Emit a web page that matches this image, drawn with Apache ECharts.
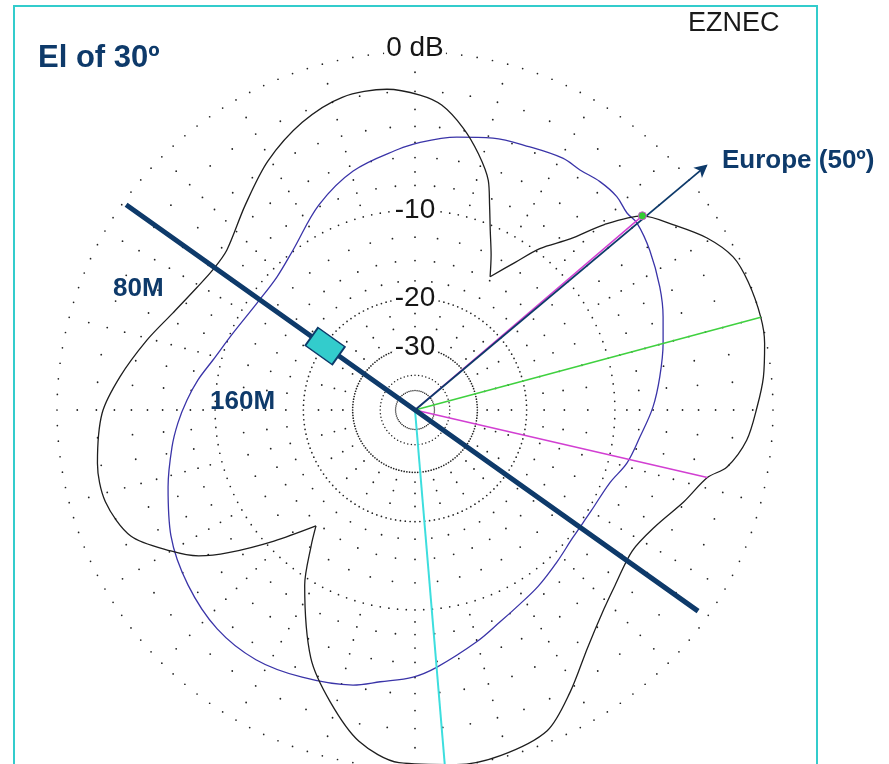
<!DOCTYPE html>
<html>
<head>
<meta charset="utf-8">
<script src="https://cdn.jsdelivr.net/npm/echarts@6/dist/echarts.min.js"></script>
<style>
html,body{margin:0;padding:0;background:#ffffff;}
#chart{width:889px;height:764px;}
</style>
</head>
<body>
<div id="chart"></div>
<script>
// ---- Data (El 30 deg), ARRL log scale ----
// 80M pattern: azimuth (deg, compass) and gain (dB rel. max)
const az80 = [0.9,5,9.7,13.9,17.7,20,22.7,26.1,29.4,34.1,37.7,42.2,45.6,49.5,54.4,59.5,64.3,69,75,79.2,84.6,89.5,95.2,100.4,103,108.9,115.8,123,131.2,136.5,144.1,151.2,157.6,166,173.4,182.6,189.6,196.2,202.8,212.2,217.4,220.5,227.1,232.6,236,240,246.1,253.5,260.5,269.4,276.4,284.6,291.8,299.4,304.7,310.4,320.3,329.4,338.6,346.9,355];
const db80 = [-2.2,-2.69,-3.85,-5.23,-6.79,-8.51,-10.43,-12.48,-14.59,-11.99,-9.65,-7.52,-5.16,-3.09,-2.03,-0.94,-0.24,-0.05,0,-0.1,-0.39,-0.78,-1.24,-2.09,-3.03,-3.98,-5.03,-5.56,-5.1,-4.56,-3.38,-1.82,-0.54,-0.1,-0.05,-0.24,-1.09,-2.81,-4.91,-9.4,-12.68,-14.65,-10.65,-7.23,-5.43,-4.1,-2.42,-1.77,-1.82,-2.31,-3.21,-4.4,-5.43,-6.16,-6.44,-6.37,-5.1,-3.67,-2.53,-1.87,-1.82];
// the two sharp notches of the 80M pattern (deg)
const notches80 = [29.4, 220.5];
// 160M pattern
const az160 = [1.1,8.7,16,23.6,30.4,34.5,39,43.4,47.1,49.9,55.8,63.3,69.4,74.9,82.3,89.3,96.8,104,110.5,120,129,137,145,152,158.2,165.2,175.1,180.4,187.3,192.7,202.9,212.5,222.1,232.4,242.7,252.7,261.3,266.9,272.5,277.9,283.9,292.9,304.1,313.9,322.7,334.9,345.5,356.5];
const db160 = [-4.99,-4.46,-4.04,-3.79,-3.5,-3.54,-3.39,-3.4,-3.65,-3.6,-3.98,-4.59,-5.16,-5.69,-6.37,-7.01,-7.85,-8.47,-9.32,-9.74,-9.74,-9.32,-8.75,-8.28,-7.71,-6.86,-5.62,-5.03,-4.59,-4.1,-3.61,-3.26,-3.32,-3.82,-4.55,-5.58,-6.45,-7.05,-7.73,-8.43,-9.31,-10.2,-10.8,-10.72,-9.89,-7.86,-6.38,-5.39];

// ring labels
const ringLabelDb = [0,-10,-20,-30];
const ringLabels = ['0 dB','-10','-20','-30'];
// grid rings (dB) grouped by dot spacing
const denseRingDb = [0,-10,-20,-30];
const fineRingDb = [-40,-50];
const evenRingDb = [-2,-4,-6,-8];
const oddRingDb = [-1,-3,-5,-7,-9];
const innerRingDb = [-12.5,-15,-17.5];
const deepRingDb = [-22.5,-25,-27.5];

// EZNEC marker directions (deg) and gains (dB)
const maxGainAz = 75, maxGainDb = 0;
const halfPowerAz = [49.5, 103];
const halfPowerDb = [-3.09, -3.03];
const cursorAz = 175.2;
const europeAz = 50;
const wireAz = [305.4, 125.4];

// ARRL log scale: radius as fraction of the outer (0 dB) ring
const toR = db => Math.pow(0.89, -db / 2);
const NAVY = '#0E3A6A';

function pattern(az, db) {
  const d = az.map((a, i) => [toR(db[i]), a]);
  d.push(d[0]);
  return d;
}
function split(az, db, cuts) {
  const i0 = az.indexOf(cuts[0]), i1 = az.indexOf(cuts[1]);
  const pt = i => [toR(db[i]), az[i]];
  const a = [], b = [];
  for (let i = i0; i <= i1; i++) a.push(pt(i));
  for (let i = i1; i < az.length; i++) b.push(pt(i));
  for (let i = 0; i <= i0; i++) b.push(pt(i));
  return [a, b];
}
function ringDots(dbs, step) {
  const out = [];
  dbs.forEach(d => { for (let a = 0; a < 360; a += step) out.push([toR(d), a]); });
  return out;
}
function dotSeries(data, size) {
  return {type:'scatter', coordinateSystem:'polar', data:data, symbol:'circle', symbolSize:size,
    itemStyle:{color:'#222222', opacity:1}, silent:true, z:1};
}
function ray(az, r, color, width, z) {
  return {type:'line', coordinateSystem:'polar', data:[[0, az],[r, az]], symbol:'none',
    lineStyle:{color:color, width:width}, silent:true, z:z};
}
function curve(data, color, smooth) {
  return {type:'line', coordinateSystem:'polar', data:data, symbol:'none', smooth:smooth,
    lineStyle:{color:color, width:1.3}, silent:true, z:4};
}

const seg80 = split(az80, db80, notches80);

const chart = echarts.init(document.getElementById('chart'), null, {renderer:'canvas'});
const option = {
  animation:false,
  backgroundColor:'#ffffff',
  polar:{center:[415,410], radius:358*1.1},
  angleAxis:{type:'value', min:0, max:360, startAngle:90, clockwise:true, show:false},
  radiusAxis:{type:'value', min:0, max:1.1, show:false},
  series:[
    dotSeries(ringDots(denseRingDb, 2.5), 1.7),
    dotSeries(ringDots(fineRingDb, 6), 1.5),
    dotSeries(ringDots(evenRingDb, 5), 1.8),
    dotSeries(ringDots(oddRingDb, 15), 1.8),
    dotSeries(ringDots(innerRingDb, 7.5), 1.8),
    dotSeries(ringDots(deepRingDb, 15), 1.8),
    {type:'scatter', coordinateSystem:'polar', symbolSize:1, itemStyle:{color:'rgba(0,0,0,0)', opacity:1}, silent:true, z:3,
      data: ringLabelDb.map((d,i)=>({name:ringLabels[i], value:[toR(d),0],
        label:{offset:[0, i===0 ? -4 : 0]}})),
      label:{show:true, position:'inside', formatter:'{b}', color:'#151515',
        fontFamily:'"Liberation Sans", Arial, sans-serif', fontSize:28,
        backgroundColor:'#ffffff', padding:[0,2]}},
    curve(pattern(az160, db160), '#3a34a8', 0.35),
    curve(seg80[0], '#1e1e1e', 0.3),
    curve(seg80[1], '#1e1e1e', 0.3),
    ray(maxGainAz, toR(maxGainDb), '#3fd13f', 1.5, 5),
    ray(halfPowerAz[0], toR(halfPowerDb[0]), '#d23fd2', 1.5, 5),
    ray(halfPowerAz[1], toR(halfPowerDb[1]), '#d23fd2', 1.5, 5),
    ray(cursorAz, 1.0, '#3ddede', 2, 5),
    ray(europeAz, 1.062, NAVY, 1.8, 6),
    {type:'scatter', coordinateSystem:'polar', data:[[1.067, europeAz]], symbol:'arrow',
      symbolSize:[10,13], symbolRotate:-europeAz, itemStyle:{color:NAVY, opacity:1}, silent:true, z:6},
    {type:'scatter', coordinateSystem:'polar', data:[[toR(halfPowerDb[0]), halfPowerAz[0]]], symbol:'circle',
      symbolSize:8, itemStyle:{color:'#33cc33', borderColor:'#cc55cc', borderWidth:1, opacity:1}, silent:true, z:6},
    {type:'line', coordinateSystem:'polar', data:[[0.99, wireAz[0]],[0, 0],[0.97, wireAz[1]]], symbol:'none',
      lineStyle:{color:NAVY, width:5, cap:'butt'}, silent:true, z:7},
    {type:'scatter', coordinateSystem:'polar', data:[[0.308, wireAz[0]]], symbol:'rect', symbolSize:[33,22],
      symbolRotate:-(wireAz[1]-90), itemStyle:{color:'#33cccc', borderColor:NAVY, borderWidth:1.6, opacity:1}, silent:true, z:8}
  ],
  graphic:[
    {type:'rect', shape:{x:14, y:6, width:803, height:820}, style:{fill:null, stroke:'#33cccc', lineWidth:2}, silent:true, z:0},
    {type:'text', x:38, y:58.5, style:{text:'El of 30º', font:'bold 31px "Liberation Sans", Arial, sans-serif', fill:NAVY, verticalAlign:'middle'}, z:20},
    {type:'text', x:688, y:23.5, style:{text:'EZNEC', font:'27px "Liberation Sans", Arial, sans-serif', fill:'#1a1a1a', verticalAlign:'middle'}, z:20},
    {type:'text', x:722, y:161, style:{text:'Europe (50º)', font:'bold 26px "Liberation Sans", Arial, sans-serif', fill:NAVY, verticalAlign:'middle'}, z:20},
    {type:'text', x:113, y:288.5, style:{text:'80M', font:'bold 26px "Liberation Sans", Arial, sans-serif', fill:NAVY, verticalAlign:'middle'}, z:20},
    {type:'text', x:210, y:401.5, style:{text:'160M', font:'bold 26px "Liberation Sans", Arial, sans-serif', fill:NAVY, verticalAlign:'middle'}, z:20}
  ]
};
chart.setOption(option);
</script>
</body>
</html>
